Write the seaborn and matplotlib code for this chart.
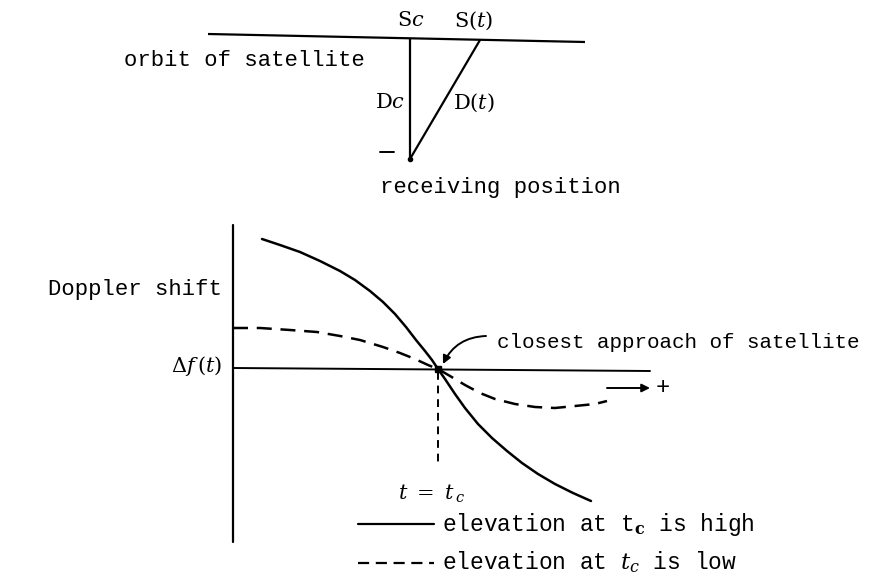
import numpy as np
import pandas as pd
import matplotlib
matplotlib.use("Agg")
import matplotlib.pyplot as plt
import seaborn as sns

# Doppler shift curves (horizontal position, vertical position on the sheet)
high_x = [262, 280, 300, 320, 340, 355, 370, 383, 395, 406, 416, 425,
          432, 438, 445, 455, 465, 478, 492, 507, 522, 538, 555, 573, 591]
high_y = [239, 245, 252, 261, 271, 280, 291, 302, 314, 327, 340, 351,
          360, 369, 379, 394, 408, 424, 438, 451, 463, 474, 484, 493, 501]

low_x = [233, 260, 290, 317, 340, 360, 383, 400, 415, 428, 438,
         450, 465, 480, 495, 515, 535, 555, 575, 595, 607]
low_y = [328, 328, 330, 332, 336, 340, 347, 353, 359, 365, 369,
         376, 385, 393, 399, 404, 407, 408, 406, 404, 401]

# closest approach point (t = tc, shift = 0)
tc_x, tc_y = 438, 369

legend_labels = [r"elevation at t$_{\mathbf{c}}$ is high",
                 r"elevation at $t_{c}$ is low"]

sns.set_theme(style="white")
plt.rcParams["font.family"] = ["Liberation Mono", "DejaVu Serif"]
plt.rcParams["mathtext.fontset"] = "dejavuserif"

fig = plt.figure(figsize=(8.87, 5.84), dpi=100)
ax = fig.add_axes([0, 0, 1, 1])

ink = "#000000"
fs = 15
serif = ["DejaVu Serif"]

df = pd.concat([
    pd.DataFrame({"x": high_x, "y": high_y, "case": "high"}),
    pd.DataFrame({"x": low_x, "y": low_y, "case": "low"}),
])
sns.lineplot(data=df, x="x", y="y", hue="case", style="case",
             palette={"high": ink, "low": ink},
             dashes={"high": "", "low": (6, 3.5)},
             sort=False, estimator=None, lw=1.8, legend=False, ax=ax)
ax.set_xlim(0, 887)
ax.set_ylim(584, 0)
ax.axis("off")

# ---- geometry sketch: orbit, satellite positions, receiver ----
ax.plot([208, 585], [34, 42], color=ink, lw=1.6, solid_capstyle="butt")
ax.plot([410, 410], [39, 159], color=ink, lw=1.6)
ax.plot([480, 410], [40, 159], color=ink, lw=1.6)
ax.plot([380, 394], [152, 152], color=ink, lw=1.4)
ax.plot([410], [159], marker="o", ms=3, color=ink)

ax.text(411, 21, r"S$c$", ha="center", va="center", fontsize=fs,
        color=ink, family=serif)
ax.text(474, 21, r"S$(t)$", ha="center", va="center", fontsize=fs,
        color=ink, family=serif)
ax.text(405, 103, r"D$c$", ha="right", va="center", fontsize=fs,
        color=ink, family=serif)
ax.text(453, 103, r"D$(t)$", ha="left", va="center", fontsize=fs,
        color=ink, family=serif)
ax.text(365, 61, "orbit of satellite", ha="right", va="center",
        fontsize=16, color=ink)
ax.text(380, 187, "receiving position", ha="left", va="center",
        fontsize=16, color=ink)

# ---- Doppler shift graph ----
ax.plot([233, 233], [225, 542], color=ink, lw=1.6)
ax.plot([233, 650], [368, 371], color=ink, lw=1.4)

ax.plot([tc_x], [tc_y], marker="s", ms=5, color=ink)
ax.plot([tc_x, tc_x], [tc_y + 3, 467], color=ink, lw=1.4,
        dashes=(4, 3))

ax.text(222, 290, "Doppler shift", ha="right", va="center",
        fontsize=16, color=ink)
ax.text(222, 366, r"$\mathit{\Delta}f\,(t)$", ha="right", va="center",
        fontsize=fs, color=ink, family=serif)
ax.text(432, 494, r"$t\ =\ t_{\,c}$", ha="center", va="center",
        fontsize=fs, color=ink, family=serif)

ax.text(497, 342, "closest approach of satellite", ha="left",
        va="center", fontsize=fs, color=ink)
ax.annotate("", xy=(443, 364), xytext=(486, 336),
            arrowprops=dict(arrowstyle="-|>", color=ink, lw=1.4,
                            mutation_scale=12, shrinkA=0, shrinkB=0,
                            connectionstyle="arc3,rad=0.3"))
ax.annotate("", xy=(650, 388), xytext=(607, 388),
            arrowprops=dict(arrowstyle="-|>", color=ink, lw=1.4,
                            mutation_scale=12, shrinkA=0, shrinkB=0))
ax.text(663, 388, "+", ha="center", va="center", fontsize=fs + 2,
        color=ink)

# ---- key ----
ax.plot([358, 434], [524, 524], color=ink, lw=1.6)
ax.plot([358, 434], [563, 563], color=ink, lw=1.6, dashes=(5, 3))
ax.text(442, 524, legend_labels[0], ha="left", va="center",
        fontsize=16.5, color=ink)
ax.text(442, 562, legend_labels[1], ha="left", va="center",
        fontsize=16.5, color=ink)

fig.savefig("out.png", dpi=100, facecolor="white")
